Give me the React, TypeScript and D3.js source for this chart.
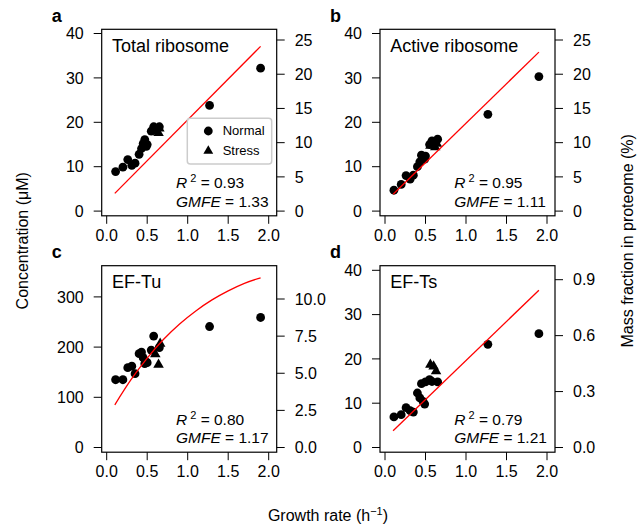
import React from 'react';
import * as d3 from 'd3';

// ---- data ----
const growthNormal = [0.11, 0.20, 0.26, 0.31, 0.35, 0.40, 0.43, 0.45, 0.47, 0.49, 0.50, 0.55, 0.58, 0.65, 1.27, 1.90];

const totalRiboNormal = [8.9, 9.9, 11.6, 10.3, 10.8, 12.8, 14.1, 15.2, 16.1, 14.6, 15.0, 18.0, 19.0, 19.0, 23.8, 32.2];
const totalRiboStressX = [0.60, 0.64, 0.65];
const totalRiboStress = [18.0, 17.6, 18.6];

const activeRiboNormal = [4.7, 6.0, 8.0, 7.2, 8.1, 10.0, 11.1, 12.6, 12.1, 11.7, 12.4, 15.0, 15.8, 16.2, 21.8, 30.3];
const activeRiboStressX = [0.56, 0.62, 0.64];
const activeRiboStress = [14.7, 14.4, 15.2];

const efTuNormal = [135, 135, 159, 162, 147, 187, 190, 179, 167, 170, 169, 194, 222, 199, 241, 259];
const efTuStressX = [0.60, 0.64, 0.66];
const efTuStress = [186, 165, 207];

const efTsNormal = [6.9, 7.4, 9.0, 8.3, 8.0, 12.3, 11.2, 14.4, 10.4, 9.8, 14.8, 15.3, 14.9, 14.8, 23.3, 25.7];
const efTsStressX = [0.56, 0.60, 0.63];
const efTsStress = [18.7, 18.3, 17.2];

// model curves (read points)
const lineTotalX = [0.1, 1.9];
const lineTotalY = [4.0, 37.1];
const lineActiveX = [0.1, 1.9];
const lineActiveY = [3.8, 35.8];
const lineTuX = [0.1, 0.3, 0.5, 0.7, 0.9, 1.1, 1.3, 1.5, 1.7, 1.9];
const lineTuY = [85, 135, 178, 215, 246, 272, 294, 312, 327, 338];
const lineTsX = [0.1, 1.9];
const lineTsY = [3.8, 35.5];

const xTicks = [0, 0.5, 1.0, 1.5, 2.0];
const leftTicksConc = [0, 10, 20, 30, 40];
const leftTicksTu = [0, 100, 200, 300];
const rightTicksRibo = [0, 5, 10, 15, 20, 25];
const rightTicksTu = [0, 2.5, 5.0, 7.5, 10.0];
const rightTicksTs = [0, 0.3, 0.6, 0.9];

const titles = ['Total ribosome', 'Active ribosome', 'EF-Tu', 'EF-Ts'];
const letters = ['a', 'b', 'c', 'd'];
const r2Values = ['0.93', '0.95', '0.80', '0.79'];
const gmfeValues = ['1.33', '1.11', '1.17', '1.21'];

const FONT = '"Liberation Sans", Arial, Helvetica, sans-serif';
const W = 175;
const H = 186.5;

interface PanelDef {
  left: number;
  top: number;
  title: string;
  letter: string;
  r2: string;
  gmfe: string;
  normal: number[];
  stressX: number[];
  stress: number[];
  lineX: number[];
  lineY: number[];
  curved: boolean;
  leftTicks: number[];
  leftDomainMax: number;
  leftRangeTop: number;
  rightTicks: number[];
  rightDomainMax: number;
  rightRangeTop: number;
  rightFmt: (v: number) => string;
  legend: boolean;
}

const panels: PanelDef[] = [
  {
    left: 101.7, top: 29.3, title: titles[0], letter: letters[0], r2: r2Values[0], gmfe: gmfeValues[0],
    normal: totalRiboNormal, stressX: totalRiboStressX, stress: totalRiboStress,
    lineX: lineTotalX, lineY: lineTotalY, curved: false,
    leftTicks: leftTicksConc, leftDomainMax: 40, leftRangeTop: 4.2,
    rightTicks: rightTicksRibo, rightDomainMax: 25, rightRangeTop: 10.7, rightFmt: (v) => d3.format('d')(v),
    legend: true,
  },
  {
    left: 380, top: 29.3, title: titles[1], letter: letters[1], r2: r2Values[1], gmfe: gmfeValues[1],
    normal: activeRiboNormal, stressX: activeRiboStressX, stress: activeRiboStress,
    lineX: lineActiveX, lineY: lineActiveY, curved: false,
    leftTicks: leftTicksConc, leftDomainMax: 40, leftRangeTop: 4.2,
    rightTicks: rightTicksRibo, rightDomainMax: 25, rightRangeTop: 10.7, rightFmt: (v) => d3.format('d')(v),
    legend: false,
  },
  {
    left: 101.7, top: 265.7, title: titles[2], letter: letters[2], r2: r2Values[2], gmfe: gmfeValues[2],
    normal: efTuNormal, stressX: efTuStressX, stress: efTuStress,
    lineX: lineTuX, lineY: lineTuY, curved: true,
    leftTicks: leftTicksTu, leftDomainMax: 300, leftRangeTop: 31.2,
    rightTicks: rightTicksTu, rightDomainMax: 10, rightRangeTop: 33.3, rightFmt: (v) => d3.format('.1f')(v),
    legend: false,
  },
  {
    left: 380, top: 265.7, title: titles[3], letter: letters[3], r2: r2Values[3], gmfe: gmfeValues[3],
    normal: efTsNormal, stressX: efTsStressX, stress: efTsStress,
    lineX: lineTsX, lineY: lineTsY, curved: false,
    leftTicks: leftTicksConc, leftDomainMax: 40, leftRangeTop: 4.6,
    rightTicks: rightTicksTs, rightDomainMax: 0.9, rightRangeTop: 14.0, rightFmt: (v) => d3.format('.1f')(v),
    legend: false,
  },
];

const triPath = d3.symbol().type(d3.symbolTriangle).size(48)() as string;

function Panel({ p }: { p: PanelDef }) {
  const x = d3.scaleLinear().domain([0, 2]).range([5, 167]);
  const y = d3.scaleLinear().domain([0, p.leftDomainMax]).range([181.8, p.leftRangeTop]);
  const yr = d3.scaleLinear().domain([0, p.rightDomainMax]).range([181.8, p.rightRangeTop]);
  const pts = p.lineX.map((v, i) => [v, p.lineY[i]] as [number, number]);
  const line = d3
    .line<[number, number]>()
    .x((d) => x(d[0]))
    .y((d) => y(d[1]))
    .curve(p.curved ? d3.curveMonotoneX : d3.curveLinear);
  return (
    <g transform={`translate(${p.left},${p.top})`} fontFamily={FONT}>
      <text x={-50} y={-7.6} fontSize={18} fontWeight="bold">{p.letter}</text>
      {/* left axis */}
      {p.leftTicks.map((t) => (
        <g key={'l' + t}>
          <line x1={-8} x2={0} y1={y(t)} y2={y(t)} stroke="black" strokeWidth={1} />
          <text x={-18} y={y(t)} dy="0.36em" textAnchor="end" fontSize={16}>{t}</text>
        </g>
      ))}
      {/* right axis */}
      {p.rightTicks.map((t) => (
        <g key={'r' + t}>
          <line x1={W} x2={W + 8} y1={yr(t)} y2={yr(t)} stroke="black" strokeWidth={1} />
          <text x={W + 18} y={yr(t)} dy="0.36em" textAnchor="start" fontSize={16}>{p.rightFmt(t)}</text>
        </g>
      ))}
      {/* bottom axis */}
      {xTicks.map((t) => (
        <g key={'b' + t}>
          <line x1={x(t)} x2={x(t)} y1={H} y2={H + 8} stroke="black" strokeWidth={1} />
          <text x={x(t)} y={H + 25} textAnchor="middle" fontSize={16}>{d3.format('.1f')(t)}</text>
        </g>
      ))}
      <text x={10.3} y={22.7} fontSize={18}>{p.title}</text>
      {/* points */}
      {p.normal.map((v, i) => (
        <circle key={'n' + i} cx={x(growthNormal[i])} cy={y(v)} r={4.4} fill="black" />
      ))}
      {p.stress.map((v, i) => (
        <path key={'s' + i} d={triPath} transform={`translate(${x(p.stressX[i])},${y(v)})`} fill="black" />
      ))}
      <path d={line(pts) as string} fill="none" stroke="#ff0000" strokeWidth={1.3} />
      {p.legend && (
        <g>
          <rect x={85.6} y={89} width={84.4} height={45.7} rx={3} fill="white" fillOpacity={0.8} stroke="#cccccc" strokeWidth={1.5} />
          <circle cx={106.6} cy={101.7} r={4.4} fill="black" />
          <text x={121} y={106.2} fontSize={13}>Normal</text>
          <path d={d3.symbol().type(d3.symbolTriangle).size(42)() as string} transform="translate(106.6,121.7)" fill="black" />
          <text x={121} y={126.2} fontSize={13}>Stress</text>
        </g>
      )}
      <text x={74.3} y={H - 27.4} fontSize={15.5}>
        <tspan fontStyle="italic">R</tspan>
        <tspan dx={3} dy={-6} fontSize={11}>2</tspan>
        <tspan dy={6}>{` = ${p.r2}`}</tspan>
      </text>
      <text x={74.3} y={H - 9} fontSize={15.5}>
        <tspan fontStyle="italic">GMFE</tspan>
        <tspan>{` = ${p.gmfe}`}</tspan>
      </text>
      <rect x={0} y={0} width={W} height={H} fill="none" stroke="black" strokeWidth={1.2} />
    </g>
  );
}

export default function App() {
  return (
    <svg width={637} height={528} style={{ position: 'absolute', left: 0, top: 0, background: 'white' }}>
      <rect x={0} y={0} width={637} height={528} fill="white" />
      {panels.map((p) => (
        <Panel key={p.letter} p={p} />
      ))}
      <text transform="translate(28,240.8) rotate(-90)" textAnchor="middle" fontSize={16} fontFamily={FONT}>
        Concentration (μM)
      </text>
      <text transform="translate(633,240.8) rotate(-90)" textAnchor="middle" fontSize={16} fontFamily={FONT}>
        Mass fraction in proteome (%)
      </text>
      <text x={328} y={521} textAnchor="middle" fontSize={16} fontFamily={FONT}>
        Growth rate (h<tspan dy={-6} fontSize={11}>−1</tspan><tspan dy={6}>)</tspan>
      </text>
    </svg>
  );
}
